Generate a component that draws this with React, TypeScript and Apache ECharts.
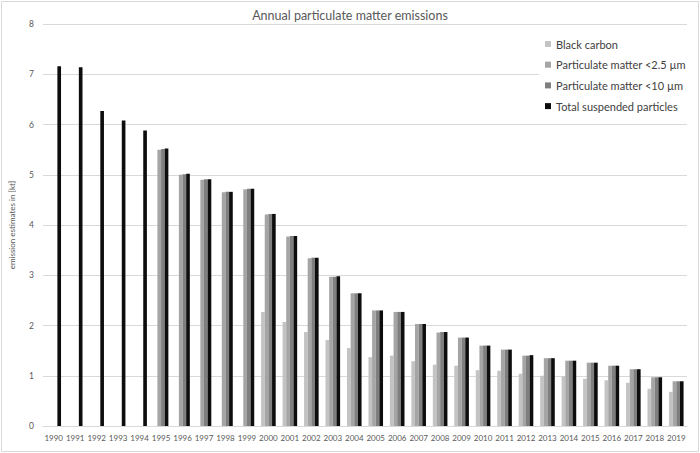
import React, { useEffect, useRef } from "react";
import * as echarts from "echarts";

const years = [
  "1990", "1991", "1992", "1993", "1994", "1995", "1996", "1997", "1998", "1999",
  "2000", "2001", "2002", "2003", "2004", "2005", "2006", "2007", "2008", "2009",
  "2010", "2011", "2012", "2013", "2014", "2015", "2016", "2017", "2018", "2019",
];

const blackCarbon = [
  null, null, null, null, null, null, null, null, null, null,
  2.27, 2.07, 1.87, 1.71, 1.55, 1.37, 1.40, 1.29, 1.22, 1.20,
  1.11, 1.10, 1.04, 1.00, 0.99, 0.94, 0.91, 0.86, 0.74, 0.68,
];

const pm25 = [
  null, null, null, null, null, 5.50, 5.00, 4.90, 4.65, 4.71,
  4.21, 3.77, 3.34, 2.97, 2.64, 2.30, 2.27, 2.03, 1.86, 1.76,
  1.60, 1.52, 1.40, 1.35, 1.30, 1.26, 1.20, 1.13, 0.97, 0.89,
];

const pm10 = [
  null, null, null, null, null, 5.51, 5.01, 4.91, 4.66, 4.72,
  4.22, 3.78, 3.35, 2.97, 2.64, 2.30, 2.27, 2.03, 1.87, 1.76,
  1.60, 1.52, 1.40, 1.35, 1.30, 1.26, 1.20, 1.13, 0.97, 0.89,
];

const tsp = [
  7.16, 7.14, 6.27, 6.08, 5.88, 5.52, 5.02, 4.91, 4.66, 4.72,
  4.22, 3.78, 3.35, 2.98, 2.64, 2.30, 2.27, 2.03, 1.87, 1.76,
  1.60, 1.52, 1.41, 1.35, 1.30, 1.26, 1.20, 1.13, 0.97, 0.89,
];

const seriesNames = [
  "Black carbon",
  "Particulate matter <2.5 µm",
  "Particulate matter <10 µm",
  "Total suspended particles",
];
const seriesColors = ["#c3c3c3", "#a5a5a5", "#7f7f7f", "#0d0d0d"];
const yTicks = [0, 1, 2, 3, 4, 5, 6, 7, 8];

const FONT = "Lato, 'Open Sans', sans-serif";

export default function App() {
  const ref = useRef<HTMLDivElement>(null);
  useEffect(() => {
    if (!ref.current) return;
    const chart = echarts.init(ref.current, null, { renderer: "svg" });
    const data = [blackCarbon, pm25, pm10, tsp];
    chart.setOption({
      animation: false,
      backgroundColor: "#ffffff",
      textStyle: { fontFamily: FONT },
      title: {
        text: "Annual particulate matter emissions",
        left: "center",
        top: 4,
        textStyle: { fontFamily: FONT, fontSize: 12.5, fontWeight: "normal", color: "#595959" },
      },
      graphic: [
        {
          type: "rect",
          shape: { x: 1.5, y: 1.5, width: 697, height: 450 },
          style: { fill: "none", stroke: "#d9d9d9", lineWidth: 1 },
          silent: true,
          z: 100,
        },
      ],
      legend: {
        orient: "vertical",
        left: 539,
        top: 31,
        data: seriesNames,
        itemWidth: 6,
        itemHeight: 6,
        itemGap: 6.7,
        icon: "rect",
        padding: [6, 12, 6, 6],
        backgroundColor: "#ffffff",
        textStyle: { fontFamily: FONT, fontSize: 11, color: "#404040", lineHeight: 14 },
        z: 10,
      },
      grid: { left: 35, right: 13, top: 24, bottom: 27, containLabel: false },
      xAxis: {
        type: "category",
        data: years,
        axisLine: { show: true, lineStyle: { color: "#d9d9d9" } },
        axisTick: { show: false },
        axisLabel: { color: "#595959", fontSize: 8, fontFamily: FONT, margin: 8, interval: 0 },
      },
      yAxis: {
        type: "value",
        min: yTicks[0],
        max: yTicks[yTicks.length - 1],
        interval: 1,
        name: "emission estimates in [kt]",
        nameLocation: "middle",
        nameGap: 27,
        nameTextStyle: { color: "#595959", fontSize: 8, fontFamily: FONT },
        axisLine: { show: false },
        axisTick: { show: false },
        splitLine: { lineStyle: { color: "#d9d9d9" } },
        axisLabel: { color: "#595959", fontSize: 8.5, fontFamily: FONT, margin: 9 },
      },
      series: seriesNames.map((name, i) => ({
        name,
        type: "bar",
        data: data[i],
        itemStyle: { color: seriesColors[i] },
        barGap: "0%",
        barCategoryGap: "32%",
      })),
    });
    return () => chart.dispose();
  }, []);
  return (
    <div
      ref={ref}
      style={{ position: "fixed", left: 0, top: 0, width: 700, height: 453 }}
    />
  );
}
